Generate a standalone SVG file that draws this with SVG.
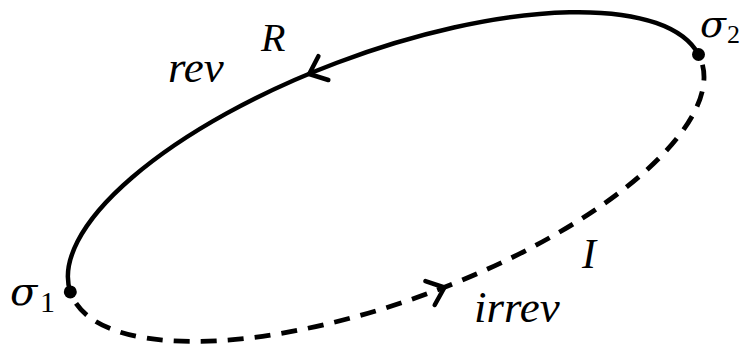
<svg xmlns="http://www.w3.org/2000/svg" width="744" height="351" viewBox="0 0 744 351">
<style>
.lbl{font-family:"Liberation Serif",serif;font-style:italic;fill:#000}
.sig{font-family:"DejaVu Serif","Liberation Serif",serif;font-style:italic;fill:#000}
.sub{font-family:"Liberation Serif",serif;font-style:normal;fill:#000}
.solid{fill:none;stroke:#000;stroke-width:4.5;stroke-linecap:round}
.dash{fill:none;stroke:#000;stroke-width:4.8;stroke-dasharray:16 11;stroke-dashoffset:16}
.head{fill:none;stroke:#000;stroke-width:4.5;stroke-linecap:round;stroke-linejoin:round}
</style>
<rect width="744" height="351" fill="#fff"/>
<g id="connectors">
<path id="rev-path" class="solid" d="M70.3,291.9 A336,124 -20.3 0 1 698.5,54.5"/>
<path id="irrev-path" class="dash" d="M698.5,54.5 A336,124 -20.3 1 1 70.3,291.9"/>
<path id="rev-arrow" class="head" d="M318.4,56.2 L309.2,74 L328.3,80"/>
<path id="irrev-arrow" class="head" d="M425.4,281.1 L444.4,287.5 L434.7,305"/>
</g>
<g id="sigma1">
<circle cx="70.3" cy="291.9" r="6.5"/>
<text class="sig" x="10" y="305" font-size="40">σ</text>
<text class="sub" x="40" y="312" font-size="30">1</text>
</g>
<g id="sigma2">
<circle cx="698.5" cy="54.5" r="6.5"/>
<text class="sig" x="700" y="37" font-size="38">σ</text>
<text class="sub" x="727" y="43" font-size="26">2</text>
</g>
<g id="label-R"><text class="lbl" x="261" y="51" font-size="40">R</text></g>
<g id="label-rev"><text class="lbl" x="168" y="82" font-size="45">rev</text></g>
<g id="label-I"><text class="lbl" x="582" y="268" font-size="42">I</text></g>
<g id="label-irrev"><text class="lbl" x="474" y="322" font-size="45">irrev</text></g>
</svg>
